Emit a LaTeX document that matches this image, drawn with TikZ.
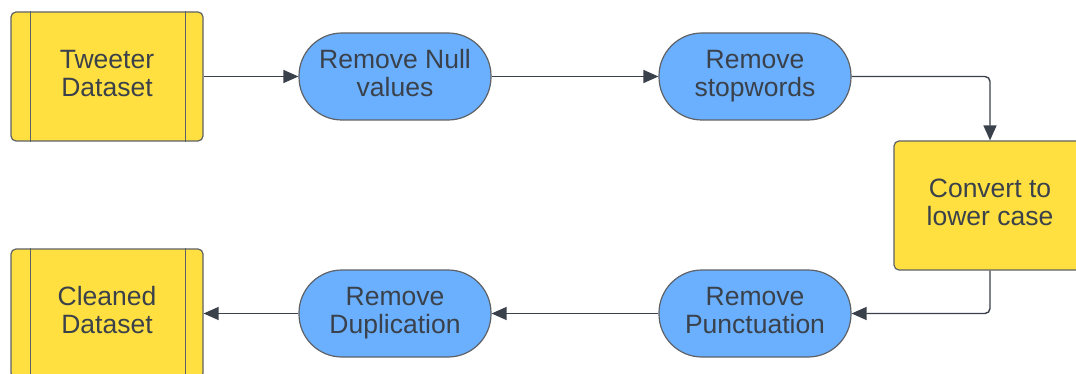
\documentclass[tikz,border=0pt]{standalone}
\usepackage{fontspec}
\setmainfont{Liberation Sans}
\usetikzlibrary{arrows.meta}
\definecolor{dataYellow}{HTML}{FFE040}
\definecolor{stepBlue}{HTML}{6AB0FF}
\definecolor{inkGray}{HTML}{3A414A}
\definecolor{edgeGray}{HTML}{5E6166}
% two centred lines, lifted slightly above the shape's centre
\newcommand{\twoline}[2]{\raisebox{3pt}{\begin{tabular}{@{}c@{}}#1\\#2\end{tabular}}}
\tikzset{
  label text/.style={text=inkGray, font=\fontsize{26.5}{28}\selectfont, align=center},
  datastore/.style={label text, draw=edgeGray, line width=1.2pt, fill=dataYellow,
    rounded corners=5pt, minimum width=192pt, minimum height=129pt, inner sep=0pt},
  stepbox/.style={label text, draw=edgeGray, line width=1.2pt, fill=stepBlue,
    rounded corners=43pt, minimum width=192pt, minimum height=87pt, inner sep=0pt},
  convbox/.style={label text, draw=edgeGray, line width=1.2pt, fill=dataYellow,
    rounded corners=5pt, minimum width=192pt, minimum height=129pt, inner sep=0pt},
  bar/.style={draw=edgeGray, line width=1.2pt},
  flow/.style={draw=inkGray, line width=1.4pt, rounded corners=5pt,
    -{Triangle[length=15pt,width=13pt]}}
}
\begin{document}
\begin{tikzpicture}[x=1pt,y=-1pt]
\useasboundingbox (0,0) rectangle (1076,374);
\clip (0,0) rectangle (1076,374);
\fill[white] (0,0) rectangle (1076,374);

% top row
\node[datastore] (tweets) at (107,76.5) {\twoline{Tweeter}{Dataset}};
\draw[bar] ([xshift=20pt]tweets.north west) -- ([xshift=20pt]tweets.south west);
\draw[bar] ([xshift=-18pt]tweets.north east) -- ([xshift=-18pt]tweets.south east);
\node[stepbox] (nulls) at (395,76.5) {\twoline{Remove Null}{values}};
\node[stepbox] (stops) at (755,76.5) {\twoline{Remove}{stopwords}};

% right column
\node[convbox] (lower) at (990,205.5) {\twoline{Convert to}{lower case}};

% bottom row
\node[stepbox] (punct) at (755,313.5) {\twoline{Remove}{Punctuation}};
\node[stepbox] (dups) at (395,313.5) {\twoline{Remove}{Duplication}};
\node[datastore] (clean) at (107,313.5) {\twoline{Cleaned}{Dataset}};
\draw[bar] ([xshift=20pt]clean.north west) -- ([xshift=20pt]clean.south west);
\draw[bar] ([xshift=-18pt]clean.north east) -- ([xshift=-18pt]clean.south east);

% connectors
\draw[flow] (tweets.east) -- (nulls.west);
\draw[flow] (nulls.east) -- (stops.west);
\draw[flow] (stops.east) -| (lower.north);
\draw[flow] (lower.south) |- (punct.east);
\draw[flow] (punct.west) -- (dups.east);
\draw[flow] (dups.west) -- (clean.east);
\end{tikzpicture}
\end{document}
